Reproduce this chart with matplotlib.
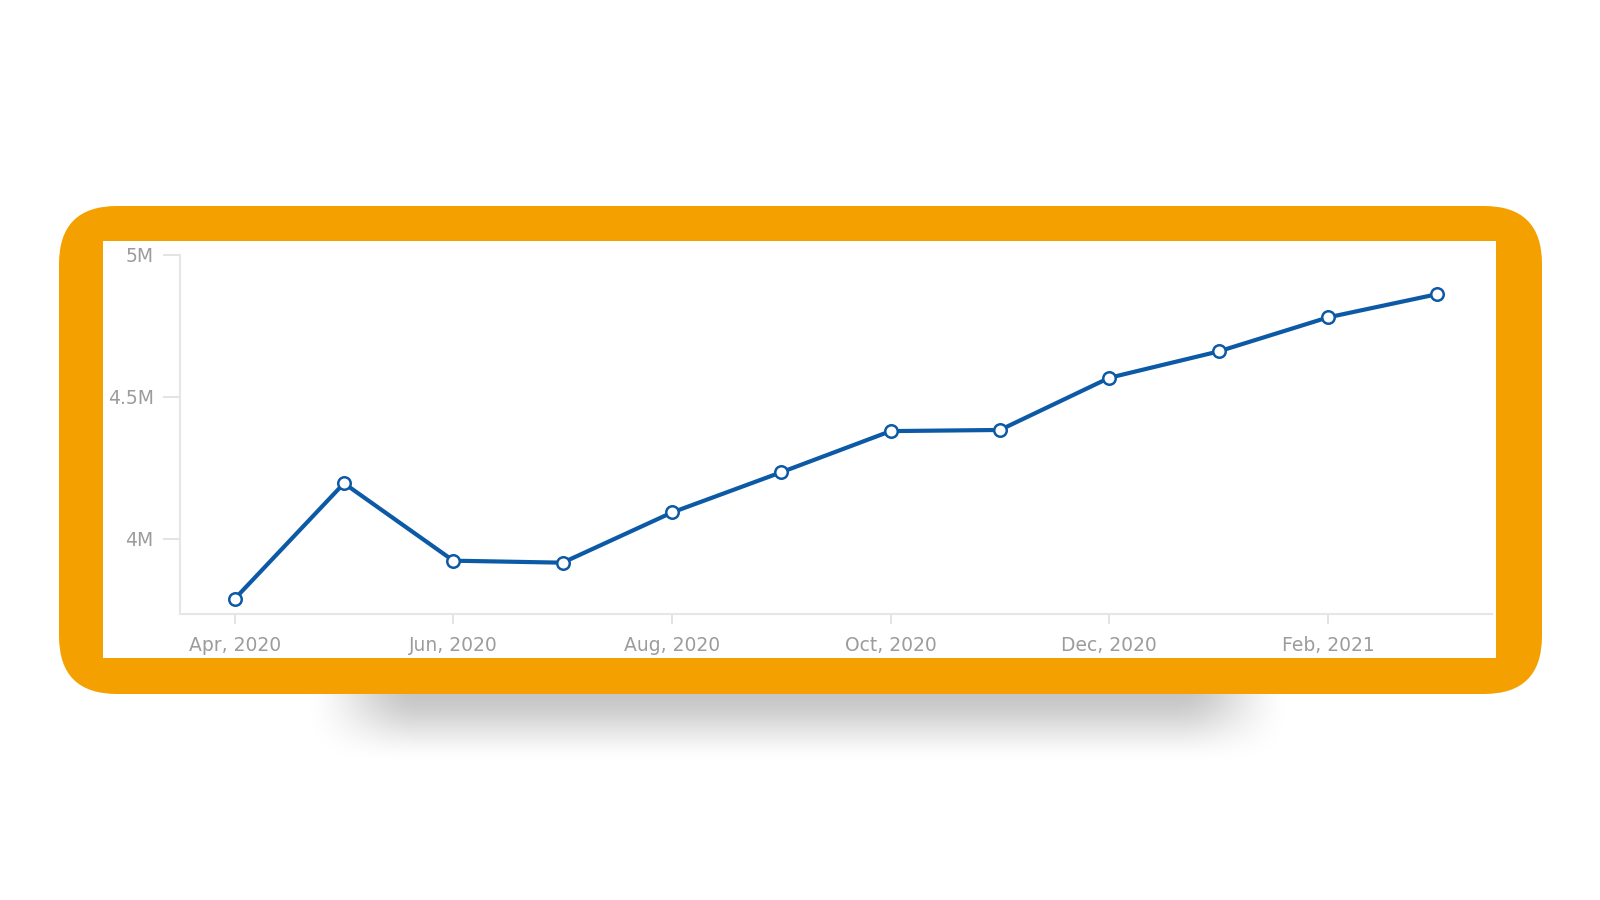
import numpy as np
import matplotlib
matplotlib.use("Agg")
import matplotlib.pyplot as plt
from matplotlib.patches import FancyBboxPatch, Rectangle

# ---- data ----
months = ["2020-04", "2020-05", "2020-06", "2020-07", "2020-08", "2020-09",
          "2020-10", "2020-11", "2020-12", "2021-01", "2021-02", "2021-03"]
values = [3.787e6, 4.195e6, 3.922e6, 3.915e6, 4.092e6, 4.234e6,
          4.379e6, 4.383e6, 4.567e6, 4.660e6, 4.780e6, 4.862e6]
y_ticks = [4.0e6, 4.5e6, 5.0e6]
y_tick_labels = ["4M", "4.5M", "5M"]
x_tick_months = ["2020-04", "2020-06", "2020-08", "2020-10", "2020-12", "2021-02"]
x_tick_labels = ["Apr, 2020", "Jun, 2020", "Aug, 2020", "Oct, 2020", "Dec, 2020", "Feb, 2021"]

W, H = 1600, 900
fig = plt.figure(figsize=(16, 9), dpi=100)
fig.patch.set_facecolor("white")

# background decoration axes in pixel coordinates
bg = fig.add_axes([0, 0, 1, 1])
bg.set_xlim(0, W)
bg.set_ylim(H, 0)
bg.axis("off")

# soft shadow under the card
xs = np.arange(W)
ys = np.arange(H)
def smooth(t):
    t = np.clip(t, 0, 1)
    return t * t * (3 - 2 * t)
fx = smooth((xs - 300) / 120.0) * smooth((1295 - xs) / 120.0)
fy = smooth((765 - ys) / 75.0) * (ys >= 600)
alpha = np.outer(fy, fx) * 0.23
shadow = np.zeros((H, W, 4))
shadow[..., 3] = alpha
bg.imshow(shadow, extent=(0, W, H, 0), zorder=0, interpolation="bilinear")

# orange rounded frame
orange = "#f4a000"
r = 58
frame = FancyBboxPatch((59 + r, 206 + r), 1542 - 59 - 2 * r, 694 - 206 - 2 * r,
                       boxstyle="round,pad=%d" % r, facecolor=orange, edgecolor="none", zorder=1)
bg.add_patch(frame)
inner = Rectangle((103, 241), 1496 - 103, 658 - 241, facecolor="white", edgecolor="none", zorder=2)
bg.add_patch(inner)

# ---- chart axes ----
left, right, top, bottom = 180, 1492, 255, 614
ax = fig.add_axes([left / W, 1 - bottom / H, (right - left) / W, (bottom - top) / H])
ax.patch.set_alpha(0)

x = np.arange(len(months))
line_color = "#0c5aa6"
ax.plot(x, values, color=line_color, lw=3.0, marker="o", markersize=9,
        markerfacecolor="white", markeredgecolor=line_color, markeredgewidth=1.8,
        solid_joinstyle="round", zorder=3, clip_on=False)

ax.set_xlim(-0.5, len(months) - 0.5)
ax.set_ylim(3.734e6, 5.0e6)

ax.set_xticks([months.index(m) for m in x_tick_months])
ax.set_xticklabels(x_tick_labels)
ax.set_yticks(y_ticks)
ax.set_yticklabels(y_tick_labels)

for s in ["top", "right"]:
    ax.spines[s].set_visible(False)
for s in ["left", "bottom"]:
    ax.spines[s].set_color("#e6e6e6")
    ax.spines[s].set_linewidth(1.5)

text_color = "#9c9c9c"
ax.tick_params(axis="y", length=12, width=1.3, color="#e0e0e0", pad=7,
               labelsize=13.5, labelcolor=text_color)
ax.tick_params(axis="x", length=7, width=1.3, color="#e0e0e0", pad=9,
               labelsize=13.5, labelcolor=text_color)

fig.savefig("out.png", dpi=100, facecolor="white")
